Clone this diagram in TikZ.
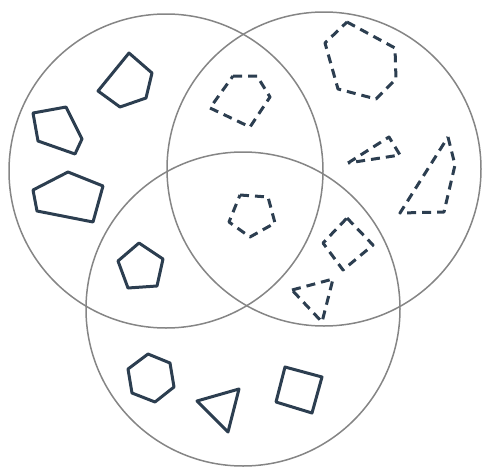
\documentclass[tikz,border=0pt]{standalone}
\definecolor{ring}{HTML}{858585}
\definecolor{ink}{HTML}{2C3E50}
\tikzset{
  setring/.style={draw=ring, line width=1.5pt},
  solidshape/.style={draw=ink, line width=3pt, line join=round},
  dashshape/.style={draw=ink, line width=3pt, line join=round, dash pattern=on 9pt off 6pt}
}
\begin{document}
\begin{tikzpicture}[x=1pt,y=-1pt]
\useasboundingbox (0,0) rectangle (482,466);
% circles
\draw[setring] (166,171) circle (157);
\draw[setring] (324,169) circle (157);
\draw[setring] (243,309) circle (157);
% solid shapes in A only
\draw[solidshape] (129,53) -- (152,73) -- (146,98) -- (120,107) -- (98,91) -- cycle;
\draw[solidshape] (33,113) -- (66,107) -- (82,139) -- (75,154) -- (38,141) -- cycle;
\draw[solidshape] (33,190) -- (68,172) -- (103,186) -- (93,222) -- (37,211) -- cycle;
% A and B
\draw[dashshape] (233,76) -- (257,76) -- (270,97) -- (250,127) -- (210,108) -- cycle;
% B only
\draw[dashshape] (347,22) -- (395,48) -- (396,79) -- (376,99) -- (338,89) -- (325,43) -- cycle;
\draw[dashshape] (348,163) -- (389,137) -- (400,155) -- cycle;
\draw[dashshape] (448,137) -- (455,165) -- (444,212) -- (400,213) -- cycle;
% center
\draw[dashshape] (240,195) -- (268,197) -- (275,223) -- (250,237) -- (229,222) -- cycle;
% A and C
\draw[solidshape] (139,243) -- (163,259) -- (157,286) -- (128,288) -- (118,261) -- cycle;
% B and C
\draw[dashshape] (347,218) -- (373,245) -- (343,270) -- (323,243) -- cycle;
\draw[dashshape] (292,290) -- (333,279) -- (322,322) -- cycle;
% C only
\draw[solidshape] (148,354) -- (170,363) -- (174,387) -- (155,402) -- (132,393) -- (128,369) -- cycle;
\draw[solidshape] (197,401) -- (239,389) -- (228,432) -- cycle;
\draw[solidshape] (285,367) -- (322,377) -- (312,413) -- (276,402) -- cycle;
\end{tikzpicture}
\end{document}
